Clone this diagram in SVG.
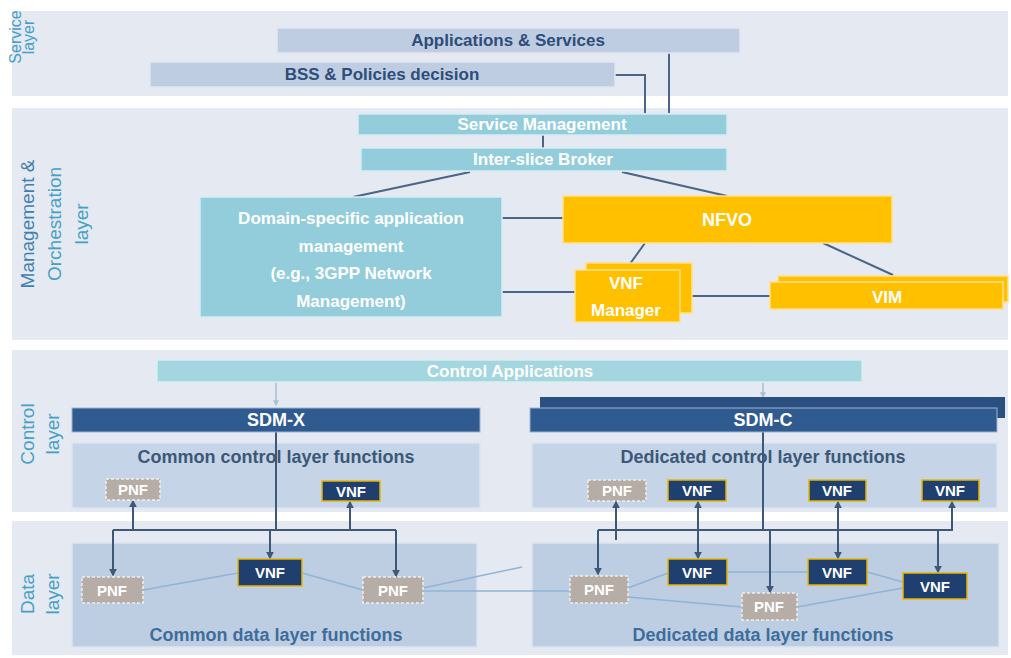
<svg xmlns="http://www.w3.org/2000/svg" width="1011" height="658" viewBox="0 0 1011 658">
<defs>
<marker id="ah" viewBox="0 0 10 10" refX="8" refY="5" markerWidth="4" markerHeight="4" orient="auto-start-reverse"><path d="M0,0 L10,5 L0,10 z" fill="#3e5878"/></marker>
<marker id="ahl" viewBox="0 0 10 10" refX="8" refY="5" markerWidth="4" markerHeight="4" orient="auto-start-reverse"><path d="M0,0 L10,5 L0,10 z" fill="#a9bfd3"/></marker>
</defs>
<style>
text{font-family:"Liberation Sans",Arial,sans-serif;text-anchor:middle}
.band{fill:#e4e9f2}
.layer{fill:#46a0c6;font-size:19px}
.svc{fill:#bfcde3;stroke:#dfe6f1;stroke-width:1.5}
.svct{fill:#2e4d78;font-size:17px;font-weight:bold}
.teal{fill:#93cddc;stroke:#d6edf3;stroke-width:1.5}
.wt{fill:#ffffff;font-weight:bold;font-size:17px}
.orange{fill:#ffc000;stroke:#ffe08a;stroke-width:1.5}
.sdm{fill:#2f5b90;stroke:#9fb4cf;stroke-width:1}
.fnc{fill:#c6d4e7;stroke:#dce5f1;stroke-width:1.5}
.fnd{fill:#bdcde2;stroke:#dce5f1;stroke-width:1.5}
.fnt{fill:#3b5878;font-size:18px;font-weight:bold}
.fntd{fill:#3e6d9c;font-size:18px;font-weight:bold}
.pnf{fill:#b7ada7;stroke:#f2eeea;stroke-width:1.5;stroke-dasharray:3 2}
.vnf{fill:#1f3f6f;stroke:#e9b500;stroke-width:1.5}
.nt{fill:#ffffff;font-weight:bold;font-size:15px}
.mc{stroke:#4a6585;stroke-width:2;fill:none}
.ac{stroke:#3e5878;stroke-width:2;fill:none}
.dl{stroke:#8fb4d6;stroke-width:1.5;fill:none}
.cl{stroke:#a9bfd3;stroke-width:1.5;fill:none}
</style>
<rect width="1011" height="658" fill="#ffffff"/>
<g id="bands">
<rect class="band" x="12" y="11" width="996" height="85"/>
<rect class="band" x="12" y="108" width="996" height="232"/>
<rect class="band" x="12" y="350" width="996" height="162"/>
<rect class="band" x="12" y="521" width="996" height="134"/>
</g>
<g id="layer-labels">
<text class="layer" style="font-size:16px" transform="translate(21,37) rotate(-90)">Service</text>
<text class="layer" style="font-size:16px" transform="translate(34,37) rotate(-90)">layer</text>
<text class="layer" style="fill:#3f7fb3" transform="translate(34,224) rotate(-90)">Management &amp;</text>
<text class="layer" transform="translate(61,224) rotate(-90)">Orchestration</text>
<text class="layer" transform="translate(88,224) rotate(-90)">layer</text>
<text class="layer" transform="translate(34,434) rotate(-90)">Control</text>
<text class="layer" transform="translate(59,434) rotate(-90)">layer</text>
<text class="layer" transform="translate(34,594) rotate(-90)">Data</text>
<text class="layer" transform="translate(59,594) rotate(-90)">layer</text>
</g>
<g id="common-control"><rect class="fnc" x="72" y="443" width="408" height="65"/><text class="fnt" x="276" y="463">Common control layer functions</text></g>
<g id="dedicated-control"><rect class="fnc" x="532" y="443" width="465" height="65"/><text class="fnt" x="763" y="463">Dedicated control layer functions</text></g>
<g id="common-data"><rect class="fnd" x="72" y="543" width="405" height="104"/><text class="fntd" x="276" y="641">Common data layer functions</text></g>
<g id="dedicated-data"><rect class="fnd" x="532" y="543" width="467" height="104"/><text class="fntd" x="763" y="641">Dedicated data layer functions</text></g>
<g id="connectors">
<path class="mc" d="M615,75 H645 V113"/>
<path class="mc" d="M669,53 V113"/>
<path class="mc" d="M543,135 V148"/>
<path class="mc" d="M470,172 L353,197"/>
<path class="mc" d="M622,172 L727,196"/>
<path class="mc" d="M502,218 H563"/>
<path class="mc" d="M502,292 H575"/>
<path class="mc" d="M680,296 H770"/>
<path class="mc" d="M645,243 L627,268"/>
<path class="mc" d="M823,243 L893,275"/>
<path class="cl" marker-end="url(#ahl)" d="M276,382 V405"/>
<path class="cl" marker-end="url(#ahl)" d="M763,382 V397"/>
<path class="dl" d="M143,590 L238,573"/>
<path class="dl" d="M302,573 L363,590"/>
<path class="dl" d="M423,588 L522,567"/>
<path class="dl" d="M423,591 H570"/>
<path class="dl" d="M628,588 L668,573"/>
<path class="dl" d="M727,572 H808"/>
<path class="dl" d="M628,597 L742,607"/>
<path class="dl" d="M797,607 L903,588"/>
<path class="dl" d="M867,572 L903,582"/>
<path class="ac" d="M276,432 V530"/>
<path class="ac" d="M113,530 H396"/>
<path class="ac" marker-end="url(#ah)" d="M113,530 V575"/>
<path class="ac" marker-end="url(#ah)" d="M133,530 V501"/>
<path class="ac" marker-end="url(#ah)" d="M270,530 V558"/>
<path class="ac" marker-end="url(#ah)" d="M350,530 V502"/>
<path class="ac" marker-end="url(#ah)" d="M396,530 V576"/>
<path class="ac" d="M763,432 V530"/>
<path class="ac" d="M598,530 H952"/>
<path class="ac" marker-end="url(#ah)" d="M598,530 V574"/>
<path class="ac" marker-end="url(#ah)" d="M616,540 V502"/>
<path class="ac" marker-start="url(#ah)" marker-end="url(#ah)" d="M698,502 V558"/>
<path class="ac" marker-end="url(#ah)" d="M770,530 V592"/>
<path class="ac" marker-start="url(#ah)" marker-end="url(#ah)" d="M838,502 V558"/>
<path class="ac" marker-start="url(#ah)" marker-end="url(#ah)" d="M952,502 V530 H938 V572"/>
</g>
<g id="applications-services"><rect class="svc" x="277" y="28" width="463" height="25"/><text class="svct" x="508" y="46">Applications &amp; Services</text></g>
<g id="bss-policies"><rect class="svc" x="150" y="62" width="465" height="25"/><text class="svct" x="382" y="80">BSS &amp; Policies decision</text></g>
<g id="service-management"><rect class="teal" x="358" y="114" width="369" height="21"/><text class="wt" x="542" y="130">Service Management</text></g>
<g id="inter-slice-broker"><rect class="teal" x="361" y="148" width="366" height="23"/><text class="wt" x="543" y="165">Inter-slice Broker</text></g>
<g id="domain-mgmt"><rect class="teal" x="200" y="197" width="302" height="120"/>
<text class="wt" x="351" y="224">Domain-specific application</text>
<text class="wt" x="351" y="252">management</text>
<text class="wt" x="351" y="279">(e.g., 3GPP Network</text>
<text class="wt" x="351" y="307">Management)</text></g>
<g id="nfvo"><rect class="orange" x="563" y="196" width="329" height="47"/><text class="wt" x="727" y="226" style="font-size:18px">NFVO</text></g>
<g id="vnf-manager"><rect class="orange" x="586" y="263" width="106" height="50"/><rect class="orange" x="575" y="270" width="105" height="52"/>
<text class="wt" x="626" y="289">VNF</text><text class="wt" x="626" y="316">Manager</text></g>
<g id="vim"><rect class="orange" x="778" y="276" width="230" height="26"/><rect class="orange" x="770" y="282" width="233" height="27"/><text class="wt" x="887" y="303">VIM</text></g>
<g id="control-applications"><rect fill="#a3d6de" stroke="#d8eef1" stroke-width="1.5" x="157" y="360" width="705" height="22"/><text class="wt" x="510" y="377">Control Applications</text></g>
<g id="sdm-x"><rect class="sdm" x="72" y="408" width="408" height="24"/><text class="wt" x="276" y="426" style="font-size:18px">SDM-X</text></g>
<g id="sdm-c"><rect fill="#2a4f80" x="540" y="397" width="465" height="21"/><rect class="sdm" x="530" y="408" width="467" height="24"/><text class="wt" x="763" y="426" style="font-size:18px">SDM-C</text></g>
<g id="cc-pnf"><rect class="pnf" x="106" y="479" width="54" height="21"/><text class="nt" x="133" y="495">PNF</text></g>
<g id="cc-vnf"><rect class="vnf" x="322" y="481" width="58" height="20"/><text class="nt" x="351" y="497">VNF</text></g>
<g id="dc-pnf"><rect class="pnf" x="588" y="480" width="58" height="21"/><text class="nt" x="617" y="496">PNF</text></g>
<g id="dc-vnf1"><rect class="vnf" x="668" y="480" width="58" height="21"/><text class="nt" x="697" y="496">VNF</text></g>
<g id="dc-vnf2"><rect class="vnf" x="809" y="480" width="57" height="21"/><text class="nt" x="837" y="496">VNF</text></g>
<g id="dc-vnf3"><rect class="vnf" x="922" y="480" width="57" height="21"/><text class="nt" x="950" y="496">VNF</text></g>
<g id="cd-pnf1"><rect class="pnf" x="82" y="577" width="61" height="26"/><text class="nt" x="112" y="596">PNF</text></g>
<g id="cd-vnf"><rect class="vnf" x="238" y="559" width="64" height="27"/><text class="nt" x="270" y="578">VNF</text></g>
<g id="cd-pnf2"><rect class="pnf" x="363" y="577" width="60" height="26"/><text class="nt" x="393" y="596">PNF</text></g>
<g id="dd-pnf1"><rect class="pnf" x="570" y="576" width="58" height="27"/><text class="nt" x="599" y="595">PNF</text></g>
<g id="dd-vnf1"><rect class="vnf" x="668" y="559" width="59" height="26"/><text class="nt" x="697" y="578">VNF</text></g>
<g id="dd-pnf2"><rect class="pnf" x="742" y="593" width="55" height="27"/><text class="nt" x="769" y="612">PNF</text></g>
<g id="dd-vnf2"><rect class="vnf" x="808" y="559" width="59" height="26"/><text class="nt" x="837" y="578">VNF</text></g>
<g id="dd-vnf3"><rect class="vnf" x="903" y="573" width="64" height="26"/><text class="nt" x="935" y="592">VNF</text></g>
</svg>
